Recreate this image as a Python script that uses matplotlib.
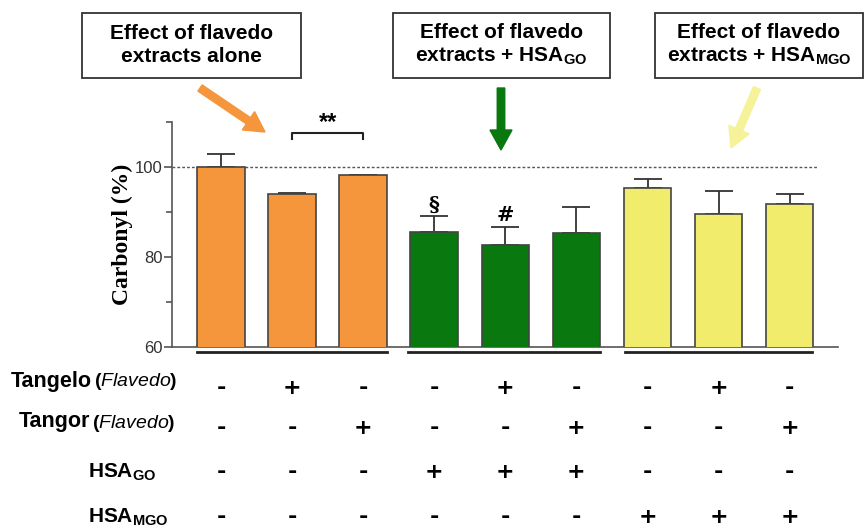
import matplotlib
matplotlib.use("Agg")
import matplotlib.pyplot as plt
from matplotlib.transforms import blended_transform_factory
from matplotlib.patches import FancyArrow, Rectangle

SANS = ['Liberation Sans', 'DejaVu Sans']
plt.rcParams['font.family'] = SANS
plt.rcParams['mathtext.fontset'] = 'custom'
plt.rcParams['mathtext.rm'] = 'Liberation Sans'
plt.rcParams['mathtext.bf'] = 'Liberation Sans:bold'
plt.rcParams['mathtext.it'] = 'Liberation Sans:italic'

# data
values = [100.0, 94.0, 98.2, 85.6, 82.7, 85.4, 95.3, 89.5, 91.7]
err_up = [3.0, 0.2, 0.0, 3.4, 4.0, 5.8, 2.0, 5.2, 2.3]
colors = ['#F5963C'] * 3 + ['#08780F'] * 3 + ['#F2EC6C'] * 3
marks = {3: '§', 4: '#'}

tangelo = ['-', '+', '-', '-', '+', '-', '-', '+', '-']
tangor = ['-', '-', '+', '-', '-', '+', '-', '-', '+']
hsa_go = ['-', '-', '-', '+', '+', '+', '-', '-', '-']
hsa_mgo = ['-', '-', '-', '-', '-', '-', '+', '+', '+']

box_texts = ['Effect of flavedo\nextracts alone',
             'Effect of flavedo\nextracts + HSA$_{\\mathbf{GO}}$',
             'Effect of flavedo\nextracts + HSA$_{\\mathbf{MGO}}$']

W, H = 866, 530
fig = plt.figure(figsize=(W / 100, H / 100), dpi=100)
ax = fig.add_axes([172 / W, 1 - 347 / H, (838 - 172) / W, (347 - 122) / H])

x = list(range(len(values)))
ax.bar(x, values, width=0.67, color=colors, edgecolor='#444444', linewidth=1.2, zorder=3)
ax.errorbar(x, values, yerr=[[0] * len(values), err_up], fmt='none',
            ecolor='#333333', elinewidth=1.3, capsize=10, capthick=1.3, zorder=2)
ax.plot([-0.69, 8.4], [100, 100], ls=(0, (2, 1.5)), color='#555555', lw=1.0, zorder=1)

for i, m in marks.items():
    ax.text(i, values[i] + err_up[i] + 0.4, m, ha='center', va='bottom',
            fontsize=15, fontweight='bold', family='DejaVu Serif')

# ** bracket
ax.plot([1, 1, 2, 2], [106.3, 107.6, 107.6, 106.3], color='#222222', lw=1.5, clip_on=False)
ax.text(1.5, 107.4, '**', ha='center', va='bottom', fontsize=17, fontweight='bold')

ax.set_xlim(-0.69, 8.68)
ax.set_ylim(60, 110)
ax.set_yticks([60, 80, 100])
ax.set_yticks([70, 90, 110], minor=True)
ax.set_xticks([])
for s in ['top', 'right']:
    ax.spines[s].set_visible(False)
for s in ['left', 'bottom']:
    ax.spines[s].set_color('#555555')
    ax.spines[s].set_linewidth(1.2)
ax.tick_params(axis='y', which='major', length=6, width=1.2, color='#555555',
               labelsize=12, labelcolor='#333333', pad=1)
ax.tick_params(axis='y', which='minor', length=4, width=1.2, color='#555555')
ax.set_ylabel('Carbonyl (%)', family='Liberation Serif', fontweight='bold',
              fontsize=17, labelpad=1)

# group underlines and the +/- table
tr = blended_transform_factory(ax.transData, fig.transFigure)
for a, b in [(-0.34, 2.33), (2.63, 5.33), (5.69, 8.32)]:
    fig.add_artist(plt.Line2D([a, b], [0.336, 0.336], transform=tr, color='#222222', lw=2.0))

rows = [tangelo, tangor, hsa_go, hsa_mgo]
row_y = [388, 428, 472, 517]
for signs, yy in zip(rows, row_y):
    for i, s in enumerate(signs):
        fig.text(i, 1 - yy / H, s, transform=tr, ha='center', va='center', fontsize=16,
                 fontweight='bold', family=['DejaVu Sans'])

fig.text(92 / W, 1 - 381 / H, 'Tangelo', ha='right', va='center', fontsize=15.5,
         fontweight='bold')
fig.text(94 / W, 1 - 382 / H, '($\\mathit{Flavedo}$)', ha='left', va='center', fontsize=14,
         fontweight='bold')
fig.text(90 / W, 1 - 422 / H, 'Tangor', ha='right', va='center', fontsize=15.5,
         fontweight='bold')
fig.text(92 / W, 1 - 423 / H, '($\\mathit{Flavedo}$)', ha='left', va='center', fontsize=14,
         fontweight='bold')
fig.text(88 / W, 1 - 472 / H, 'HSA$_{\\mathbf{GO}}$', ha='left', va='center', fontsize=15,
         fontweight='bold')
fig.text(88 / W, 1 - 517 / H, 'HSA$_{\\mathbf{MGO}}$', ha='left', va='center', fontsize=15,
         fontweight='bold')

# header boxes
boxes = [(82, 301), (393, 610), (655, 863)]
for (b0, b1), t in zip(boxes, box_texts):
    fig.add_artist(Rectangle((b0 / W, 1 - 78 / H), (b1 - b0) / W, 65 / H,
                             transform=fig.transFigure, fc='white', ec='#333333', lw=1.3))
    fig.text((b0 + b1) / 2 / W, 1 - 45 / H, t, ha='center', va='center', fontsize=15,
             fontweight='bold', linespacing=1.25)

# arrows
arrows = [((200, 88), (265, 132), '#F5963C'),
          ((501, 88), (501, 150), '#08780F'),
          ((757, 88), (731, 148), '#F5F29A')]
for (x0, y0), (x1, y1), c in arrows:
    fig.add_artist(FancyArrow(x0 / 100, (H - y0) / 100, (x1 - x0) / 100, (y0 - y1) / 100,
                              width=0.075, head_width=0.22, head_length=0.2,
                              length_includes_head=True, color=c,
                              transform=fig.dpi_scale_trans))

fig.savefig('out.png', dpi=100)
